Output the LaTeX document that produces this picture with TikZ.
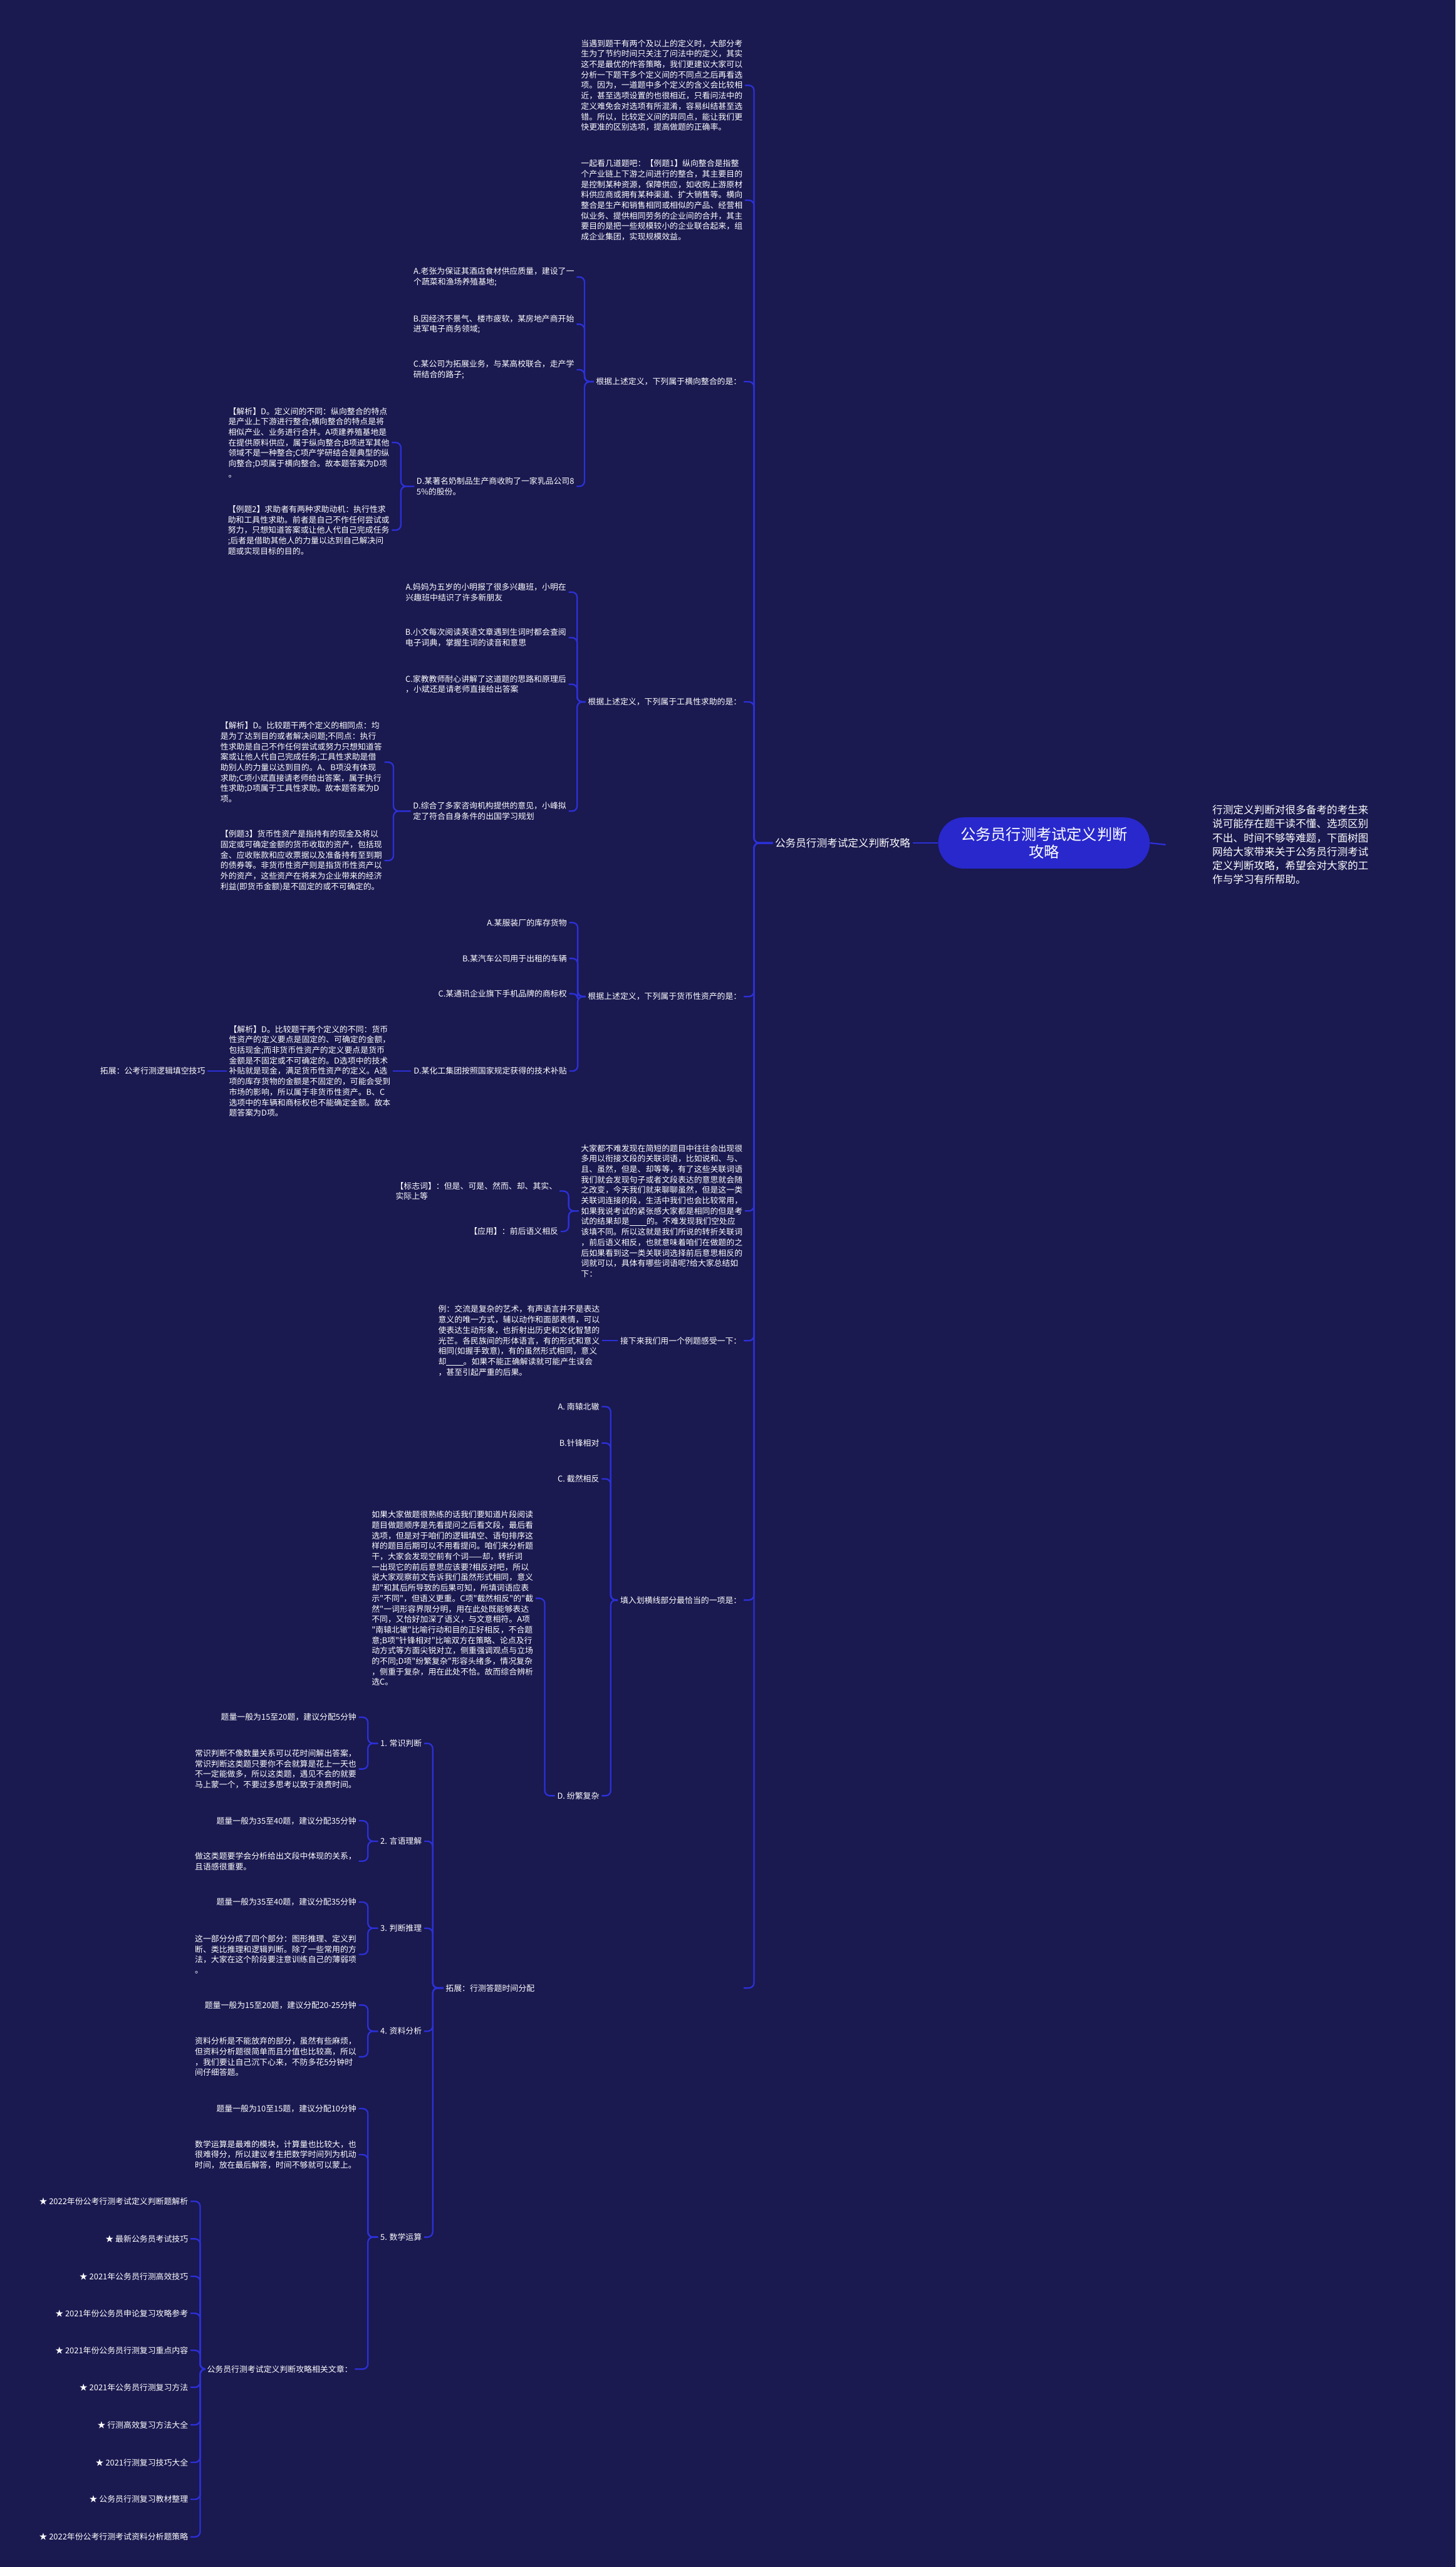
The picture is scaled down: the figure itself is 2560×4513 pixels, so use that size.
\documentclass[tikz,border=0pt]{standalone}
\usepackage{fontspec}
\newfontfamily\cjk{Noto Sans CJK SC}
\definecolor{bgc}{RGB}{26,25,80}
\definecolor{linkc}{RGB}{44,48,214}
\definecolor{rootc}{RGB}{40,40,205}
\newcommand\blankline{\rule[-2pt]{30pt}{0.9pt}}
\newcommand\mylink[3]{\path (#3,0) coordinate (bxtmp); \draw[link] (#1.west) -- (#1.west -| bxtmp) |- (#2.east);}
\begin{document}
\begin{tikzpicture}[x=1pt,y=-1pt,
 t/.style={text=white, font={\cjk\fontsize{14.2pt}{18.4pt}\selectfont}, align=left, inner sep=4pt, anchor=east},
 link/.style={draw=linkc, line width=2.6pt, rounded corners=9pt}]
\fill[bgc] (0,0) rectangle (2560,4513);
\useasboundingbox (0,0) rectangle (2560,4513);

% root and description
\node[fill=rootc, rounded corners=45pt, minimum width=372pt, minimum height=90pt, text=white, align=center, font={\cjk\fontsize{26.7pt}{31pt}\selectfont}] (root) at (1836,1482) {公务员行测考试定义判断\\攻略};
\node[t, anchor=west, font={\cjk\fontsize{18.3pt}{24.5pt}\selectfont}] (desc) at (2128,1485) {行测定义判断对很多备考的考生来\\说可能存在题干读不懂、选项区别\\不出、时间不够等难题，下面树图\\网给大家带来关于公务员行测考试\\定义判断攻略，希望会对大家的工\\作与学习有所帮助。};
\draw[link] (root.east) -- ([xshift=-78pt]desc.west);

\node[t, anchor=center, font={\cjk\fontsize{18.3pt}{22pt}\selectfont}] (l1) at (1482,1482) {公务员行测考试定义判断攻略};
\draw[link] (l1.east) -- (root.west);

% level 2
\node[t] (p1) at (1310,150) {当遇到题干有两个及以上的定义时，大部分考\\生为了节约时间只关注了问法中的定义，其实\\这不是最优的作答策略，我们更建议大家可以\\分析一下题干多个定义间的不同点之后再看选\\项。因为，一道题中多个定义的含义会比较相\\近，甚至选项设置的也很相近，只看问法中的\\定义难免会对选项有所混淆，容易纠结甚至选\\错。所以，比较定义间的异同点，能让我们更\\快更准的区别选项，提高做题的正确率。};
\node[t] (p2) at (1310,352) {一起看几道题吧：【例题1】纵向整合是指整\\个产业链上下游之间进行的整合，其主要目的\\是控制某种资源，保障供应，如收购上游原材\\料供应商或拥有某种渠道、扩大销售等。横向\\整合是生产和销售相同或相似的产品、经营相\\似业务、提供相同劳务的企业间的合并，其主\\要目的是把一些规模较小的企业联合起来，组\\成企业集团，实现规模效益。};
\node[t] (q1) at (1308,671) {根据上述定义，下列属于横向整合的是：};
\node[t] (q2) at (1308,1234) {根据上述定义，下列属于工具性求助的是：};
\node[t] (q3) at (1308,1752) {根据上述定义，下列属于货币性资产的是：};
\node[t] (dj) at (1310,2129) {大家都不难发现在简短的题目中往往会出现很\\多用以衔接文段的关联词语，比如说和、与、\\且、虽然，但是、却等等，有了这些关联词语\\我们就会发现句子或者文段表达的意思就会随\\之改变，今天我们就来聊聊虽然，但是这一类\\关联词连接的段，生活中我们也会比较常用，\\如果我说考试的紧张感大家都是相同的但是考\\试的结果却是\blankline 的。不难发现我们空处应\\该填不同。所以这就是我们所说的转折关联词\\，前后语义相反，也就意味着咱们在做题的之\\后如果看到这一类关联词选择前后意思相反的\\词就可以，具体有哪些词语呢?给大家总结如\\下：};
\node[t] (jx) at (1308,2357) {接下来我们用一个例题感受一下：};
\node[t] (tr) at (1308,2813) {填入划横线部分最恰当的一项是：};
\node[t, text width=520pt] (tz2) at (1308,3495) {拓展：行测答题时间分配};
\foreach \c in {p1,p2,q1,q2,q3,dj,jx,tr,tz2} {\mylink{l1}{\c}{1326}}

% Q1
\node[t] (q1a) at (1014,487) {A.老张为保证其酒店食材供应质量，建设了一\\个蔬菜和渔场养殖基地;};
\node[t] (q1b) at (1014,570) {B.因经济不景气、楼市疲软，某房地产商开始\\进军电子商务领域;};
\node[t] (q1c) at (1014,650) {C.某公司为拓展业务，与某高校联合，走产学\\研结合的路子;};
\node[t] (q1d) at (1014,855) {D.某著名奶制品生产商收购了一家乳品公司8\\5\%的股份。};
\foreach \c in {q1a,q1b,q1c,q1d} {\mylink{q1}{\c}{1028}}
\node[t] (q1j) at (689,778) {【解析】D。定义间的不同：纵向整合的特点\\是产业上下游进行整合;横向整合的特点是将\\相似产业、业务进行合并。A项建养殖基地是\\在提供原料供应，属于纵向整合;B项进军其他\\领域不是一种整合;C项产学研结合是典型的纵\\向整合;D项属于横向整合。故本题答案为D项\\。};
\node[t] (q1e) at (689,932) {【例题2】求助者有两种求助动机：执行性求\\助和工具性求助。前者是自己不作任何尝试或\\努力，只想知道答案或让他人代自己完成任务\\;后者是借助其他人的力量以达到自己解决问\\题或实现目标的目的。};
\foreach \c in {q1j,q1e} {\mylink{q1d}{\c}{705}}

% Q2
\node[t] (q2a) at (1000,1041) {A.妈妈为五岁的小明报了很多兴趣班，小明在\\兴趣班中结识了许多新朋友};
\node[t] (q2b) at (1000,1121) {B.小文每次阅读英语文章遇到生词时都会查阅\\电子词典，掌握生词的读音和意思};
\node[t] (q2c) at (1000,1203) {C.家教教师耐心讲解了这道题的思路和原理后\\，小斌还是请老师直接给出答案};
\node[t] (q2d) at (1000,1426) {D.综合了多家咨询机构提供的意见，小峰拟\\定了符合自身条件的出国学习规划};
\foreach \c in {q2a,q2b,q2c,q2d} {\mylink{q2}{\c}{1015}}
\node[t] (q2j) at (676,1340) {【解析】D。比较题干两个定义的相同点：均\\是为了达到目的或者解决问题;不同点：执行\\性求助是自己不作任何尝试或努力只想知道答\\案或让他人代自己完成任务;工具性求助是借\\助别人的力量以达到目的。A、B项没有体现\\求助;C项小斌直接请老师给出答案，属于执行\\性求助;D项属于工具性求助。故本题答案为D\\项。};
\node[t] (q2e) at (676,1513) {【例题3】货币性资产是指持有的现金及将以\\固定或可确定金额的货币收取的资产，包括现\\金、应收账款和应收票据以及准备持有至到期\\的债券等。非货币性资产则是指货币性资产以\\外的资产，这些资产在将来为企业带来的经济\\利益(即货币金额)是不固定的或不可确定的。};
\foreach \c in {q2j,q2e} {\mylink{q2d}{\c}{692}}

% Q3
\node[t] (q3a) at (1001,1622) {A.某服装厂的库存货物};
\node[t] (q3b) at (1001,1685) {B.某汽车公司用于出租的车辆};
\node[t] (q3c) at (1001,1747) {C.某通讯企业旗下手机品牌的商标权};
\node[t] (q3d) at (1001,1883) {D.某化工集团按照国家规定获得的技术补贴};
\foreach \c in {q3a,q3b,q3c,q3d} {\mylink{q3}{\c}{1016}}
\node[t] (q3j) at (691,1883) {【解析】D。比较题干两个定义的不同：货币\\性资产的定义要点是固定的、可确定的金额，\\包括现金;而非货币性资产的定义要点是货币\\金额是不固定或不可确定的。D选项中的技术\\补贴就是现金，满足货币性资产的定义。A选\\项的库存货物的金额是不固定的，可能会受到\\市场的影响，所以属于非货币性资产。B、C\\选项中的车辆和商标权也不能确定金额。故本\\题答案为D项。};
\draw[link] (q3d.west) -- (q3j.east);
\node[t] (tz1) at (365,1883) {拓展：公考行测逻辑填空技巧};
\draw[link] (q3j.west) -- (tz1.east);

% dj children
\node[t] (bz) at (984,2094) {【标志词】：但是、可是、然而、却、其实、\\实际上等};
\node[t] (yy) at (986,2165) {【应用】：前后语义相反};
\foreach \c in {bz,yy} {\mylink{dj}{\c}{1000}}

% jx child
\node[t] (ex) at (1059,2357) {例：交流是复杂的艺术，有声语言并不是表达\\意义的唯一方式，辅以动作和面部表情，可以\\使表达生动形象，也折射出历史和文化智慧的\\光芒。各民族间的形体语言，有的形式和意义\\相同(如握手致意)，有的虽然形式相同，意义\\却\blankline 。如果不能正确解读就可能产生误会\\，甚至引起严重的后果。};
\draw[link] (jx.west) -- (ex.east);

% tr children
\node[t] (tra) at (1058,2473) {A. 南辕北辙};
\node[t] (trb) at (1058,2537) {B.针锋相对};
\node[t] (trc) at (1058,2600) {C. 截然相反};
\node[t] (trd) at (1058,3157) {D. 纷繁复杂};
\foreach \c in {tra,trb,trc,trd} {\mylink{tr}{\c}{1074}}
\node[t] (trj) at (942,2810) {如果大家做题很熟练的话我们要知道片段阅读\\题目做题顺序是先看提问之后看文段，最后看\\选项，但是对于咱们的逻辑填空、语句排序这\\样的题目后期可以不用看提问。咱们来分析题\\干，大家会发现空前有个词——却，转折词\\一出现它的前后意思应该要?相反对吧，所以\\说大家观察前文告诉我们虽然形式相同，意义\\却"和其后所导致的后果可知，所填词语应表\\示"不同"，但语义更重。C项"截然相反"的"截\\然"一词形容界限分明，用在此处既能够表达\\不同，又恰好加深了语义，与文意相符。A项\\"南辕北辙"比喻行动和目的正好相反，不合题\\意;B项"针锋相对"比喻双方在策略、论点及行\\动方式等方面尖锐对立，侧重强调观点与立场\\的不同;D项"纷繁复杂"形容头绪多，情况复杂\\，侧重于复杂，用在此处不恰。故而综合辨析\\选C。};
\mylink{trd}{trj}{958}

% time allocation
\node[t] (n1) at (746,3065) {1. 常识判断};
\node[t] (n2) at (746,3237) {2. 言语理解};
\node[t] (n3) at (746,3390) {3. 判断推理};
\node[t] (n4) at (746,3571) {4. 资料分析};
\node[t] (n5) at (746,3933) {5. 数学运算};
\foreach \c in {n1,n2,n3,n4,n5} {\mylink{tz2}{\c}{761}}

\node[t] (n1a) at (631,3019) {题量一般为15至20题，建议分配5分钟};
\node[t] (n1b) at (631,3110) {常识判断不像数量关系可以花时间解出答案，\\常识判断这类题只要你不会就算是花上一天也\\不一定能做多，所以这类题，遇见不会的就要\\马上蒙一个，不要过多思考以致于浪费时间。};
\node[t] (n2a) at (631,3201) {题量一般为35至40题，建议分配35分钟};
\node[t] (n2b) at (631,3272) {做这类题要学会分析给出文段中体现的关系，\\且语感很重要。};
\node[t] (n3a) at (631,3344) {题量一般为35至40题，建议分配35分钟};
\node[t] (n3b) at (631,3436) {这一部分分成了四个部分：图形推理、定义判\\断、类比推理和逻辑判断。除了一些常用的方\\法，大家在这个阶段要注意训练自己的薄弱项\\。};
\node[t] (n4a) at (631,3525) {题量一般为15至20题，建议分配20-25分钟};
\node[t] (n4b) at (631,3616) {资料分析是不能放弃的部分，虽然有些麻烦，\\但资料分析题很简单而且分值也比较高，所以\\，我们要让自己沉下心来，不防多花5分钟时\\间仔细答题。};
\node[t] (n5a) at (631,3707) {题量一般为10至15题，建议分配10分钟};
\node[t] (n5b) at (631,3788) {数学运算是最难的模块，计算量也比较大，也\\很难得分，所以建议考生把数学时间列为机动\\时间，放在最后解答，时间不够就可以蒙上。};
\node[t] (xg) at (624,4165) {公务员行测考试定义判断攻略相关文章：};
\foreach \c in {n1a,n1b} {\mylink{n1}{\c}{647}}
\foreach \c in {n2a,n2b} {\mylink{n2}{\c}{647}}
\foreach \c in {n3a,n3b} {\mylink{n3}{\c}{647}}
\foreach \c in {n4a,n4b} {\mylink{n4}{\c}{647}}
\foreach \c in {n5a,n5b,xg} {\mylink{n5}{\c}{647}}

% related articles
\node[t] (s1) at (335,3870) {★ 2022年份公考行测考试定义判断题解析};
\node[t] (s2) at (335,3936) {★ 最新公务员考试技巧};
\node[t] (s3) at (335,4002) {★ 2021年公务员行测高效技巧};
\node[t] (s4) at (335,4067) {★ 2021年份公务员申论复习攻略参考};
\node[t] (s5) at (335,4132) {★ 2021年份公务员行测复习重点内容};
\node[t] (s6) at (335,4197) {★ 2021年公务员行测复习方法};
\node[t] (s7) at (335,4263) {★ 行测高效复习方法大全};
\node[t] (s8) at (335,4329) {★ 2021行测复习技巧大全};
\node[t] (s9) at (335,4394) {★ 公务员行测复习教材整理};
\node[t] (s10) at (335,4460) {★ 2022年份公考行测考试资料分析题策略};
\foreach \c in {s1,s2,s3,s4,s5,s6,s7,s8,s9,s10} {\mylink{xg}{\c}{352}}
\end{tikzpicture}
\end{document}
